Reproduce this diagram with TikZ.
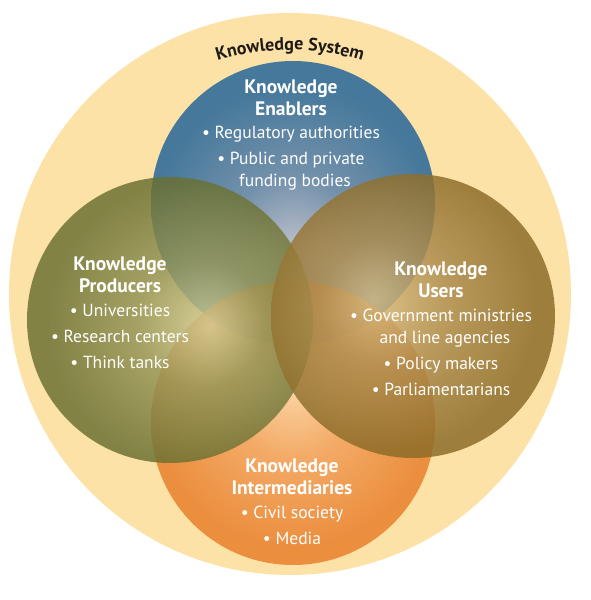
\documentclass[tikz,border=0pt]{standalone}
\usepackage{fontspec}
\setmainfont{PT Sans}
\usetikzlibrary{decorations.text}

\definecolor{systemyellow}{RGB}{253,226,168}
\definecolor{enablerblue}{RGB}{34,100,152}
\definecolor{enablermid}{RGB}{90,130,172}
\definecolor{enablerlight}{RGB}{176,186,210}
\definecolor{producergreen}{RGB}{106,112,50}
\definecolor{producermid}{RGB}{150,150,88}
\definecolor{producerlight}{RGB}{210,205,150}
\definecolor{userbrown}{RGB}{140,108,40}
\definecolor{usermid}{RGB}{175,142,80}
\definecolor{userlight}{RGB}{215,188,130}
\definecolor{intorange}{RGB}{232,126,42}
\definecolor{intmid}{RGB}{242,160,90}
\definecolor{intlight}{RGB}{251,208,160}
\definecolor{titledark}{RGB}{30,26,24}

% light spot of each circle sits towards the middle of the picture
\pgfdeclareradialshading{enablershade}{\pgfpoint{0bp}{-8bp}}{%
  color(0bp)=(enablerlight); color(11bp)=(enablermid);
  color(25bp)=(enablerblue); color(50bp)=(enablerblue)}
\pgfdeclareradialshading{producershade}{\pgfpoint{7bp}{-1bp}}{%
  color(0bp)=(producerlight); color(11bp)=(producermid);
  color(25bp)=(producergreen); color(50bp)=(producergreen)}
\pgfdeclareradialshading{usershade}{\pgfpoint{-7bp}{3bp}}{%
  color(0bp)=(userlight); color(11bp)=(usermid);
  color(25bp)=(userbrown); color(50bp)=(userbrown)}
\pgfdeclareradialshading{intshade}{\pgfpoint{0bp}{6bp}}{%
  color(0bp)=(intlight); color(11bp)=(intmid);
  color(25bp)=(intorange); color(50bp)=(intorange)}

\newcommand{\grouptitle}[1]{{\bfseries\fontsize{19.5}{22}\selectfont #1}}

\tikzset{
  venn/.style={fill opacity=0.84},
  circletext/.style={text=white, align=center, inner sep=0pt,
    font=\fontsize{17.5}{22}\selectfont},
}

\begin{document}
\begin{tikzpicture}[x=1pt,y=1pt]
  \useasboundingbox (0,0) rectangle (591,600);
  % outer circle
  \fill[systemyellow] (290,306) circle (281pt);
  \path[decorate, decoration={text along path, text align=center,
      text={|\fontsize{18}{18}\selectfont\bfseries\color{titledark}|Knowledge System}}]
    (290,306) ++(128:244pt) arc[start angle=128, end angle=52, radius=244pt];

  % the four groups
  \shade[venn, shading=enablershade] (293,397) circle (142pt);
  \shade[venn, shading=intshade] (293,177) circle (142pt);
  \shade[venn, shading=producershade] (170,280) circle (143pt);
  \shade[venn, shading=usershade] (413,284) circle (142pt);

  \node[circletext, anchor=north] (enablers) at (291,520) {%
    \grouptitle{Knowledge}\\ \grouptitle{Enablers}\\[1pt]
    • Regulatory authorities\\[4pt]
    • Public and private\\ \hspace*{8pt}funding bodies};
  \node[circletext, anchor=north] (producers) at (120,343) {%
    \grouptitle{Knowledge}\\ \grouptitle{Producers}\\[2pt]
    • Universities\\[4pt]
    • Research centers\\[4pt]
    • Think tanks};
  \node[circletext, anchor=north] (users) at (441,338) {%
    \grouptitle{Knowledge}\\ \grouptitle{Users}\\[2pt]
    • Government ministries\\ \hspace*{8pt}and line agencies\\[4pt]
    • Policy makers\\[4pt]
    • Parliamentarians};
  \node[circletext, anchor=north] (intermediaries) at (292,141) {%
    \grouptitle{Knowledge}\\ \grouptitle{Intermediaries}\\[2pt]
    • Civil society\\[4pt]
    • Media};
\end{tikzpicture}
\end{document}
